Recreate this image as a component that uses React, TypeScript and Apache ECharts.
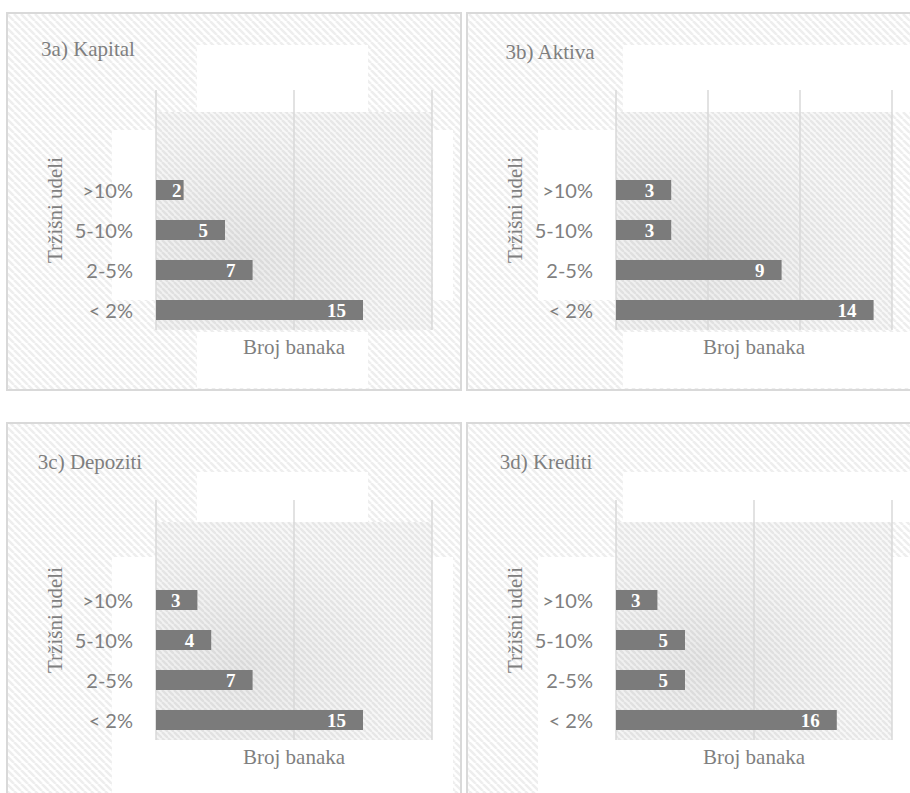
import React, { useEffect, useRef } from "react";
import * as echarts from "echarts";

// ---- data ----
const categories = ["< 2%", "2-5%", "5-10%", ">10%"];
const kapital = [15, 7, 5, 2];
const aktiva = [14, 9, 3, 3];
const depoziti = [15, 7, 4, 3];
const krediti = [16, 5, 5, 3];
const titles = ["3a) Kapital", "3b) Aktiva", "3c) Depoziti", "3d) Krediti"];
const axisMax = [20, 15, 20, 20];
const axisStep = [10, 5, 10, 10];
const yAxisName = "Tržišni udeli";
const xAxisName = "Broj banaka";

// ---- layout / style ----
const PLOT_W = 276;
const PLOT_H = 240;
const panels = [
  { x: 7, y: 13, w: 454, h: 377, gl: 156, gt: 90, tx: 88, ty: 49,
    whites: [[197, 45, 171, 67], [112, 130, 44, 170], [433, 130, 20, 170], [197, 332, 171, 56]] },
  { x: 467, y: 13, w: 460, h: 377, gl: 616, gt: 90, tx: 550, ty: 51.5,
    whites: [[623, 45, 300, 67], [538, 130, 78, 170], [623, 332, 300, 56]] },
  { x: 7, y: 423, w: 454, h: 390, gl: 156, gt: 500, tx: 90, ty: 462,
    whites: [[197, 472, 171, 50], [112, 557, 341, 240]] },
  { x: 467, y: 423, w: 460, h: 390, gl: 616, gt: 500, tx: 546, ty: 462,
    whites: [[623, 472, 300, 50], [538, 557, 380, 240]] },
];
const TEXT_GRAY = "#7f7f7f";
const BAR_GRAY = "#7b7b7b";
const SERIF = "Liberation Serif";
const SANS = "Lato";

function stripeTile(size: number, bg: string, fg: string, lw: number) {
  const c = document.createElement("canvas");
  c.width = size;
  c.height = size;
  const ctx = c.getContext("2d")!;
  ctx.fillStyle = bg;
  ctx.fillRect(0, 0, size, size);
  ctx.strokeStyle = fg;
  ctx.lineWidth = lw;
  for (const off of [-size, 0, size]) {
    ctx.beginPath();
    ctx.moveTo(off, 0);
    ctx.lineTo(off + size, size);
    ctx.stroke();
  }
  return { image: c.toDataURL(), repeat: "repeat", imageWidth: size, imageHeight: size };
}

export default function App() {
  const ref = useRef<HTMLDivElement>(null);
  useEffect(() => {
    if (!ref.current) return;
    const chart = echarts.init(ref.current, undefined, { renderer: "svg" });
    const panelFill = stripeTile(7, "#ffffff", "#eeeeee", 2.6);
    const plotFill = stripeTile(6, "#f8f8f8", "#e7e7e7", 2.4);
    const datasets = [kapital, aktiva, depoziti, krediti];
    const axisCats = [...categories, "", ""];

    const elements: any[] = [];
    panels.forEach((p, i) => {
      elements.push({
        type: "rect", z: -30, silent: true,
        shape: { x: p.x, y: p.y, width: p.w, height: p.h },
        style: { fill: panelFill, stroke: "#d9d9d9", lineWidth: 2 },
      });
      p.whites.forEach((r) => {
        elements.push({
          type: "rect", z: -25, silent: true,
          shape: { x: r[0], y: r[1], width: r[2], height: r[3] },
          style: { fill: "#ffffff" },
        });
      });
      elements.push({
        type: "rect", z: -20, silent: true,
        shape: { x: p.gl, y: p.gt + 22, width: PLOT_W, height: PLOT_H - 22 },
        style: { fill: plotFill },
      });
      elements.push({
        type: "rect", z: -19, silent: true,
        shape: { x: p.gl, y: p.gt + 22, width: PLOT_W, height: PLOT_H - 22 },
        style: {
          fill: {
            type: "radial", x: 0.3, y: 0.65, r: 0.6,
            colorStops: [
              { offset: 0, color: "rgba(0,0,0,0.06)" },
              { offset: 1, color: "rgba(0,0,0,0)" },
            ],
          },
        },
      });
      elements.push({
        type: "text", z: 10, silent: true,
        x: p.tx, y: p.ty,
        style: {
          text: titles[i], fill: TEXT_GRAY, fontFamily: SERIF, fontSize: 21,
          align: "center", verticalAlign: "middle",
        },
      });
    });

    const option: any = {
      animation: false,
      backgroundColor: "#ffffff",
      textStyle: { fontFamily: SERIF },
      graphic: { elements },
      grid: panels.map((p) => ({
        left: p.gl, top: p.gt, width: PLOT_W, height: PLOT_H, containLabel: false,
      })),
      xAxis: panels.map((_, i) => ({
        type: "value", gridIndex: i, min: 0, max: axisMax[i], interval: axisStep[i],
        axisLabel: { show: false }, axisLine: { show: false }, axisTick: { show: false },
        splitLine: { show: true, lineStyle: { color: "#d9d9d9", width: 1.5 } },
        name: xAxisName, nameLocation: "middle", nameGap: 6,
        nameTextStyle: { fontFamily: SERIF, fontSize: 21, color: TEXT_GRAY },
      })),
      yAxis: panels.map((_, i) => ({
        type: "category", gridIndex: i, data: axisCats,
        axisLine: { show: false }, axisTick: { show: false }, splitLine: { show: false },
        axisLabel: { margin: 23, fontFamily: SANS, fontSize: 20, color: TEXT_GRAY },
        name: yAxisName, nameLocation: "middle", nameRotate: 90, nameGap: 91,
        nameTextStyle: { fontFamily: SERIF, fontSize: 21, color: TEXT_GRAY },
      })),
      series: datasets.map((vals, i) => ({
        type: "bar", xAxisIndex: i, yAxisIndex: i, barWidth: 20,
        itemStyle: { color: BAR_GRAY },
        label: {
          show: true, position: "insideRight", color: "#ffffff",
          fontFamily: SERIF, fontWeight: "bold", fontSize: 19,
        },
        data: vals.map((v) => ({
          value: v,
          label: { distance: (v / axisMax[i]) * PLOT_W < 35 ? 2 : 17 },
        })),
      })),
    };
    chart.setOption(option);
    return () => chart.dispose();
  }, []);
  return (
    <div
      ref={ref}
      style={{ position: "absolute", left: 0, top: 0, width: 910, height: 793 }}
    />
  );
}
